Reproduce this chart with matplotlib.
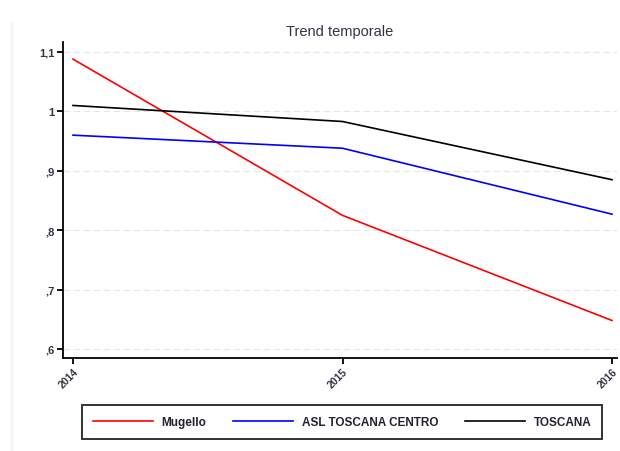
import matplotlib
matplotlib.use("Agg")
import matplotlib.pyplot as plt
from matplotlib.lines import Line2D

years = [2014, 2015, 2016]
mugello = [1.088, 0.825, 0.648]
asl = [0.960, 0.938, 0.827]
toscana = [1.010, 0.983, 0.885]
series_names = ["Mugello", "ASL TOSCANA CENTRO", "TOSCANA"]
yticks = [0.6, 0.7, 0.8, 0.9, 1.0, 1.1]
ytick_labels = [",6", ",7", ",8", ",9", "1", "1,1"]

plt.rcParams['font.family'] = ['Liberation Sans', 'DejaVu Sans']

W, H = 620, 452
fig = plt.figure(figsize=(6.2, 4.52), dpi=100)
ax = fig.add_axes([63 / W, 1 - 359 / H, (617 - 63) / W, (359 - 43) / H])

ax.plot(years, mugello, color="#ff0000", lw=1.2, label=series_names[0])
ax.plot(years, asl, color="#0000ff", lw=1.2, label=series_names[1])
ax.plot(years, toscana, color="#000000", lw=1.2, label=series_names[2])

ax.set_xlim(2014 - 10 / 269.5, 2016 + 5 / 269.5)
ax.set_ylim(0.6 - 9 / 594, 1.1 + 10 / 594)
ax.set_yticks(yticks)
ax.set_yticklabels(ytick_labels, fontsize=8, fontweight="bold", color="#333344")
ax.set_xticks(years)
ax.set_xticklabels([str(y) for y in years], fontsize=7.5, fontweight="bold", color="#333344",
                   rotation=45, ha="right", rotation_mode="anchor")
ax.yaxis.grid(True, color="#e6e6e6", linestyle=(0, (6, 3)), lw=0.8)
ax.set_axisbelow(True)
for s in ["top", "right"]:
    ax.spines[s].set_visible(False)
for s in ["left", "bottom"]:
    ax.spines[s].set_linewidth(1.3)
ax.tick_params(axis="both", width=1.3, length=4, color="black", pad=2)
ax.set_title("Trend temporale", fontsize=10.5, pad=5, color="#333344")

handles = [Line2D([], [], color=c, lw=1.2) for c in ["#ff0000", "#0000ff", "#000000"]]
leg = fig.legend(handles, series_names, loc="center", ncol=3,
                 bbox_to_anchor=((80 + 604) / 2 / W, 1 - 423 / H),
                 prop={"size": 8.5, "weight": "bold"}, frameon=True, fancybox=False,
                 edgecolor="black", handlelength=5.1, handletextpad=0.7,
                 columnspacing=2.3, borderpad=0.9, borderaxespad=0)
leg.get_frame().set_linewidth(1.4)
for t in leg.get_texts():
    t.set_color("#222233")

fig.add_artist(Line2D([12 / W, 12 / W], [0, 1 - 24 / H], color="#eef4f8", lw=1.5))

fig.savefig("out.png", dpi=100)
